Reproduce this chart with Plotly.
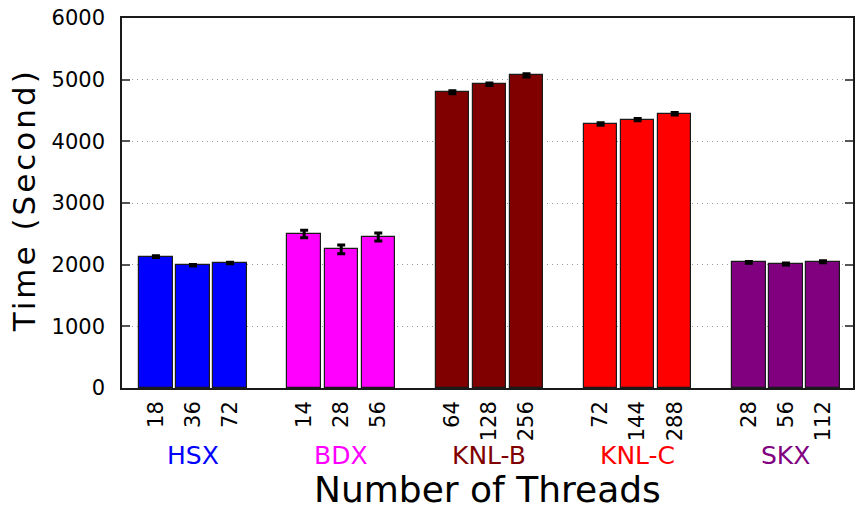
import plotly.graph_objects as go

groups = ["HSX", "BDX", "KNL-B", "KNL-C", "SKX"]
colors = ["#0000FF", "#FF00FF", "#800000", "#FF0000", "#800080"]
threads = [
    ["18", "36", "72"],
    ["14", "28", "56"],
    ["64", "128", "256"],
    ["72", "144", "288"],
    ["28", "56", "112"],
]
times = [
    [2130, 1990, 2027],
    [2497, 2249, 2448],
    [4795, 4924, 5070],
    [4281, 4351, 4448],
    [2038, 2011, 2048],
]
errors = [
    [15, 12, 12],
    [60, 70, 65],
    [25, 20, 25],
    [20, 18, 20],
    [15, 15, 15],
]

W, H = 856, 508
L, R, T, B = 122, 1, 18, 120
pw, ph = W - L - R, H - T - B

fig = go.Figure()
tickvals, ticktext = [], []
for gi, g in enumerate(groups):
    xs = [gi * 4 + k for k in range(3)]
    tickvals += xs
    ticktext += threads[gi]
    fig.add_trace(go.Bar(
        x=xs, y=times[gi], width=0.9,
        marker=dict(color=colors[gi], line=dict(color="#1a1a1a", width=1.2)),
        error_y=dict(type="data", array=errors[gi], color="black", thickness=3, width=4),
        showlegend=False, name=g,
    ))

font = "DejaVu Sans"
fig.update_layout(
    width=W, height=H,
    margin=dict(l=L, r=R, t=T, b=B),
    plot_bgcolor="white", paper_bgcolor="white",
    font=dict(family=font, color="black", size=21),
    bargap=0,
)
fig.update_xaxes(
    range=[-0.915, 18.81],
    tickvals=tickvals, ticktext=ticktext, tickangle=-90,
    tickfont=dict(size=21, family=font),
    showline=True, linecolor="#1a1a1a", linewidth=1.5, mirror=True,
    ticks="", showgrid=False, zeroline=False,
    ticklabelstandoff=3,
)
fig.update_yaxes(
    range=[0, 6000], dtick=1000,
    tickfont=dict(size=21, family=font),
    showline=True, linecolor="#1a1a1a", linewidth=1.5, mirror="allticks",
    ticks="inside", ticklen=8, tickwidth=2, tickcolor="#555",
    showgrid=True, gridcolor="#999999", griddash="1px,4px", gridwidth=1,
    zeroline=False, ticklabelstandoff=11,
)

def px_to_paper_x(px):
    return (px - L) / pw

def px_to_paper_y(py):
    return (H - B - py) / ph

for gi, g in enumerate(groups):
    fig.add_annotation(
        x=gi * 4 + 1, xref="x", y=px_to_paper_y(456), yref="paper",
        text=g, showarrow=False, xanchor="center", yanchor="middle",
        font=dict(size=25, color=colors[gi], family=font),
    )

fig.add_annotation(
    x=0.5, xref="paper", y=px_to_paper_y(489), yref="paper",
    text="Number of Threads", showarrow=False, xanchor="center", yanchor="middle",
    font=dict(size=36, family=font, color="black"),
)
fig.add_annotation(
    x=px_to_paper_x(24), xref="paper", y=px_to_paper_y(200), yref="paper",
    text='<span style="letter-spacing:3px">Time (Second)</span>',
    showarrow=False, xanchor="center", yanchor="middle",
    textangle=-90,
    font=dict(size=31, family=font, color="black"),
)

fig.write_html("out.html")
